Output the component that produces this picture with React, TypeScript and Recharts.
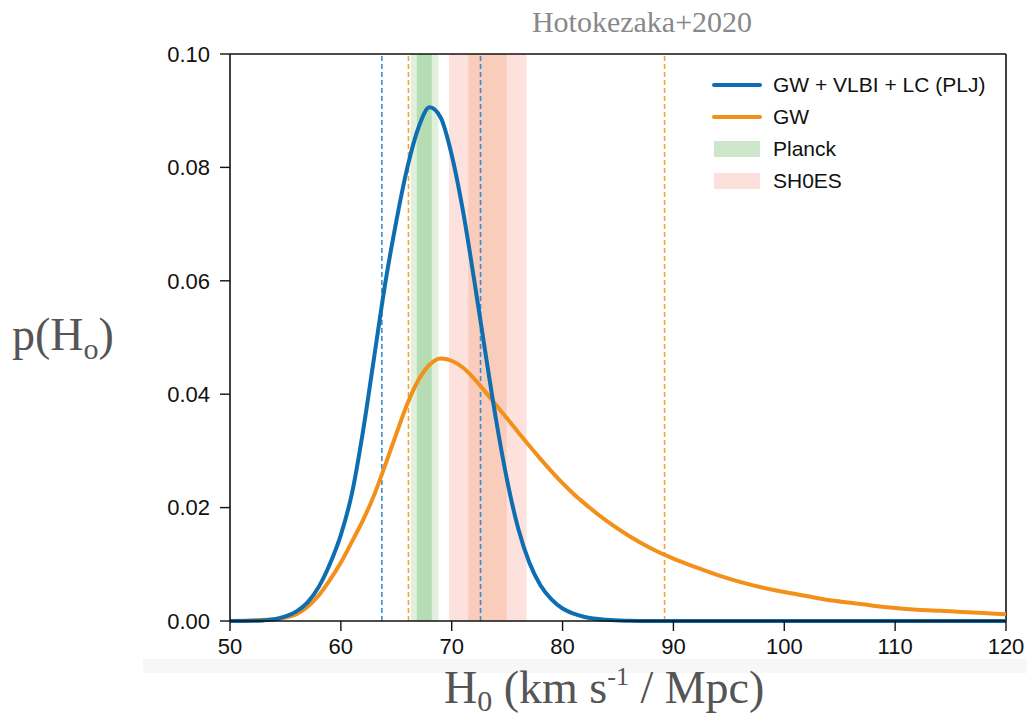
import React from 'react';
import {
  ComposedChart,
  Line,
  XAxis,
  YAxis,
  ReferenceArea,
  ReferenceLine,
} from 'recharts';

// H0 grid (km/s/Mpc)
const h0Grid = [
  50, 51, 52, 53, 54, 55, 56, 57, 58, 59, 60, 61, 62, 63, 64, 65, 66, 67, 68, 69,
  70, 71, 72, 73, 74, 75, 76, 77, 78, 79, 80, 81, 82, 84, 86, 88, 90, 92, 94, 96,
  98, 100, 102, 104, 106, 108, 110, 112, 114, 116, 118, 120,
];

// GW + VLBI + LC (PLJ) posterior
const combinedPdf = [
  0, 0.00001, 0.00003, 0.0001, 0.0003, 0.0008, 0.0017, 0.0033, 0.006, 0.01, 0.0152,
  0.0225, 0.0335, 0.0465, 0.0595, 0.0705, 0.08, 0.087, 0.0906, 0.0888, 0.0822, 0.0725,
  0.0605, 0.0478, 0.0355, 0.0248, 0.0163, 0.0103, 0.0063, 0.0038, 0.0022, 0.0013,
  0.0007, 0.0002, 0.00005, 0, 0, 0, 0, 0, 0, 0, 0, 0, 0, 0, 0, 0, 0, 0, 0, 0,
];

// GW only posterior
const gwPdf = [
  0, 0.00005, 0.0001, 0.0002, 0.0003, 0.0006, 0.0012, 0.0025, 0.0045, 0.0072, 0.0103,
  0.014, 0.0178, 0.0222, 0.0275, 0.033, 0.0383, 0.0425, 0.0452, 0.0463, 0.0459,
  0.0447, 0.0428, 0.0405, 0.0381, 0.0357, 0.0333, 0.0309, 0.0286, 0.0264, 0.0243,
  0.0224, 0.0207, 0.0176, 0.015, 0.0128, 0.011, 0.0095, 0.0081, 0.0069, 0.0059,
  0.0051, 0.0044, 0.0037, 0.0032, 0.0027, 0.0023, 0.002, 0.0018, 0.0016, 0.0014,
  0.0012,
];

// 68% credible bounds (dashed)
const combinedBounds = [63.7, 72.6];
const gwBounds = [66.1, 89.2];

// Planck and SH0ES bands: [1 sigma, 2 sigma]
const planckInner = [66.85, 68.2];
const planckOuter = [66.3, 68.8];
const shoesInner = [71.5, 74.95];
const shoesOuter = [69.75, 76.75];

const xTicks = [50, 60, 70, 80, 90, 100, 110, 120];
const yTicks = [0, 0.02, 0.04, 0.06, 0.08, 0.1];

const data = h0Grid.map((h, i) => ({ h, combined: combinedPdf[i], gw: gwPdf[i] }));

const BLUE = '#0d6eb1';
const ORANGE = '#f39019';
const sans = '"Liberation Sans", Arial, Helvetica, sans-serif';
const serif = '"Liberation Serif", "Times New Roman", serif';

const legendItems = [
  { label: 'GW + VLBI + LC (PLJ)', kind: 'line', color: BLUE },
  { label: 'GW', kind: 'line', color: ORANGE },
  { label: 'Planck', kind: 'patch', color: '#cde6cb' },
  { label: 'SH0ES', kind: 'patch', color: '#fce0db' },
];

const ChartLegend = () => (
  <div style={{ position: 'absolute', left: 712, top: 69, fontFamily: sans, fontSize: 21, color: '#111' }}>
    {legendItems.map((it) => (
      <div key={it.label} style={{ display: 'flex', alignItems: 'center', height: 32 }}>
        <div style={{ width: 61, display: 'flex', alignItems: 'center' }}>
          {it.kind === 'line' ? (
            <div style={{ width: 50, height: 4, borderRadius: 2, background: it.color }} />
          ) : (
            <div style={{ width: 46, height: 16, marginLeft: 2, background: it.color }} />
          )}
        </div>
        <span>{it.label}</span>
      </div>
    ))}
  </div>
);

const App: React.FC = () => {
  return (
    <div style={{ position: 'absolute', left: 0, top: 0, width: 1027, height: 717, background: '#fff' }}>
      {/* faint strip behind the x tick labels */}
      <div style={{ position: 'absolute', left: 143, top: 659, width: 884, height: 14, background: '#f7f7f7' }} />
      <div style={{ position: 'absolute', left: 0, top: 0 }}>
        <ComposedChart
          width={1027}
          height={717}
          data={data}
          margin={{ top: 54, right: 21, bottom: 56, left: 150 }}
        >
          <XAxis
            dataKey="h"
            type="number"
            domain={[50, 120]}
            ticks={xTicks}
            allowDataOverflow
            height={40}
            tickSize={10}
            tickMargin={7}
            axisLine={{ stroke: '#111', strokeWidth: 1.6 }}
            tickLine={{ stroke: '#111', strokeWidth: 1.4 }}
            tick={{ fill: '#111', fontSize: 22, fontFamily: sans }}
          />
          <YAxis
            type="number"
            domain={[0, 0.1]}
            ticks={yTicks}
            width={80}
            tickSize={10}
            tickMargin={10}
            tickFormatter={(v: number) => v.toFixed(2)}
            axisLine={{ stroke: '#111', strokeWidth: 1.6 }}
            tickLine={{ stroke: '#111', strokeWidth: 1.4 }}
            tick={{ fill: '#111', fontSize: 22, fontFamily: sans }}
          />
          <ReferenceArea x1={planckOuter[0]} x2={planckOuter[1]} fill="#e0f0dd" fillOpacity={1} stroke="none" />
          <ReferenceArea x1={planckInner[0]} x2={planckInner[1]} fill="#b6dcb4" fillOpacity={1} stroke="none" />
          <ReferenceArea x1={shoesOuter[0]} x2={shoesOuter[1]} fill="#fce1dc" fillOpacity={1} stroke="none" />
          <ReferenceArea x1={shoesInner[0]} x2={shoesInner[1]} fill="#f9ccbc" fillOpacity={1} stroke="none" />
          {combinedBounds.map((x) => (
            <ReferenceLine key={'b' + x} x={x} stroke="#3a8fd0" strokeWidth={1.6} strokeDasharray="5 3" />
          ))}
          {gwBounds.map((x) => (
            <ReferenceLine key={'o' + x} x={x} stroke="#f6a13a" strokeWidth={1.6} strokeDasharray="5 3" />
          ))}
          <ReferenceLine y={0.1} stroke="#111" strokeWidth={1.6} />
          <ReferenceLine x={120} stroke="#111" strokeWidth={1.6} />
          <Line
            dataKey="gw"
            type="monotone"
            stroke={ORANGE}
            strokeWidth={4}
            dot={false}
            isAnimationActive={false}
          />
          <Line
            dataKey="combined"
            type="monotone"
            stroke={BLUE}
            strokeWidth={4}
            dot={false}
            isAnimationActive={false}
          />
        </ComposedChart>
      </div>
      <ChartLegend />
      <svg
        width={1027}
        height={717}
        style={{ position: 'absolute', left: 0, top: 0, pointerEvents: 'none' }}
      >
        <text x={642} y={32} textAnchor="middle" fontFamily={serif} fontSize={30} fill="#888">
          Hotokezaka+2020
        </text>
        <text x={12} y={350} fontFamily={serif} fontSize={46} fill="#555">
          p(H<tspan fontSize={30} dy={9}>o</tspan>
          <tspan dy={-9}>)</tspan>
        </text>
        <text x={444} y={703} fontFamily={serif} fontSize={46} fill="#555">
          H<tspan fontSize={30} dy={8}>0</tspan>
          <tspan dy={-8}> (km s</tspan>
          <tspan fontSize={26} dy={-18}>-1</tspan>
          <tspan dy={18}> / Mpc)</tspan>
        </text>
      </svg>
    </div>
  );
};

export default App;
